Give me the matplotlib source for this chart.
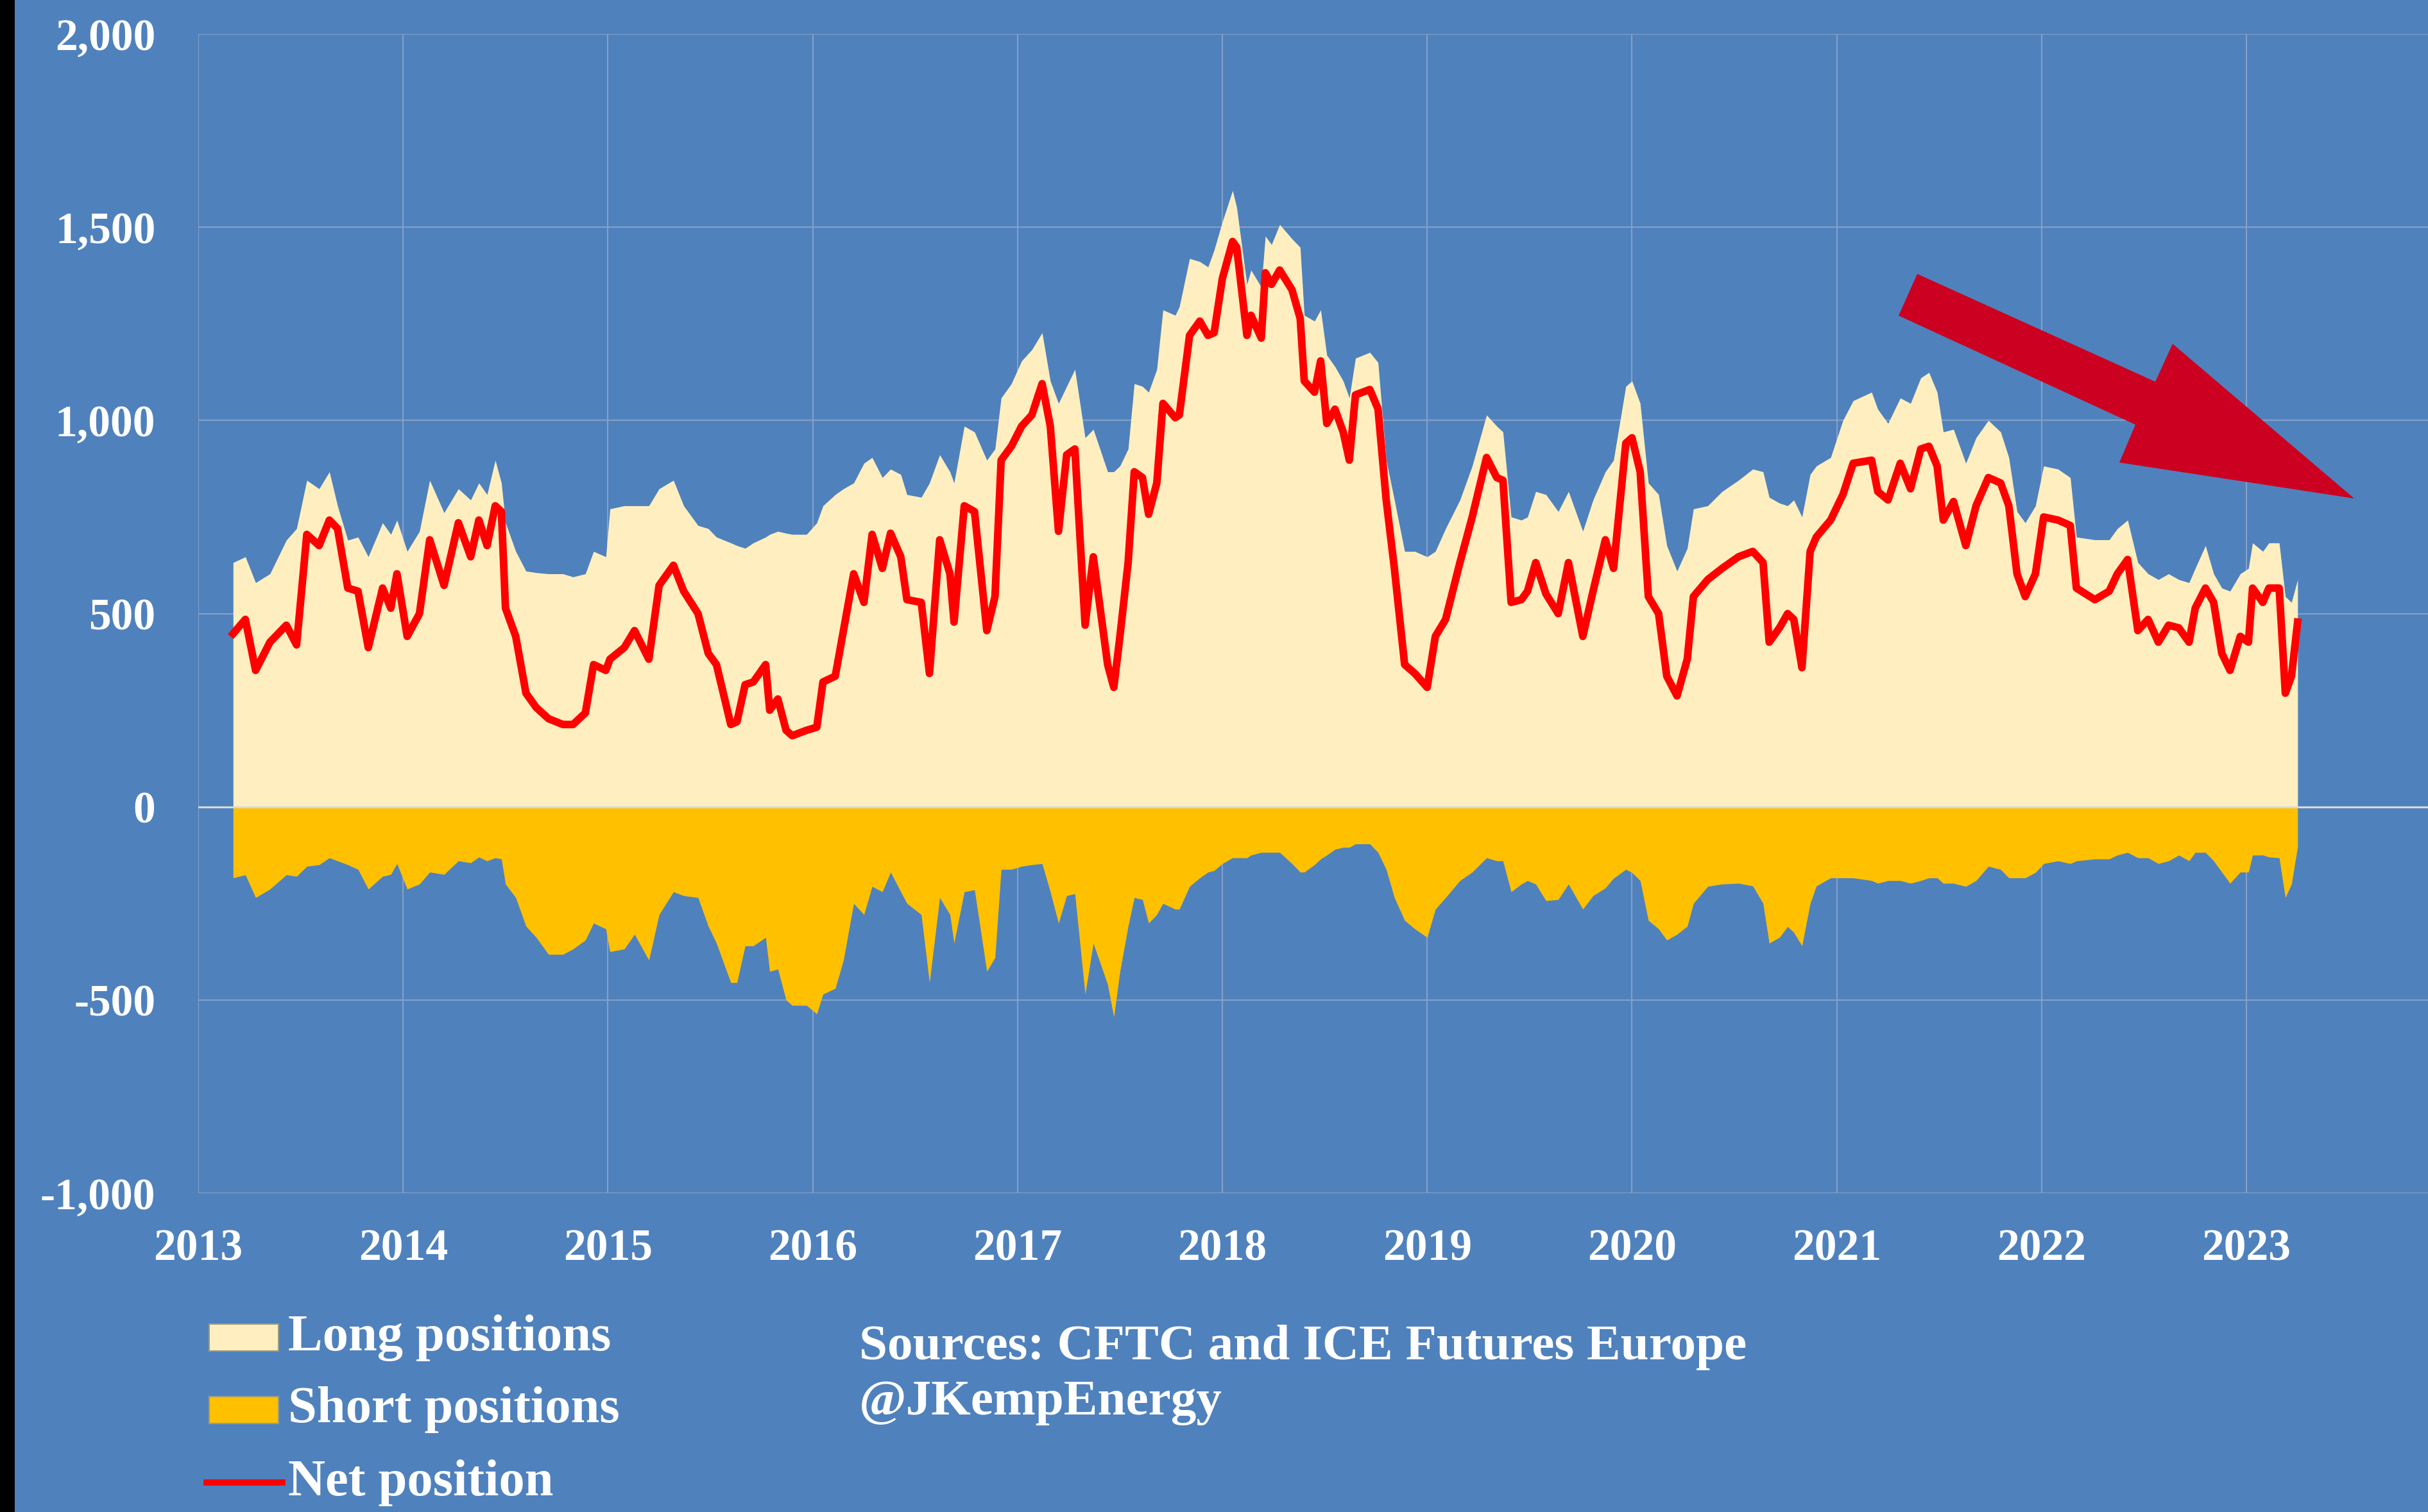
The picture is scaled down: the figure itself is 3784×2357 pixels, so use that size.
"""
plot.py - Hedge fund positions in Brent/WTI (CFTC + ICE), long/short/net, 2013-2023.
"""

import matplotlib
matplotlib.use("Agg")
import matplotlib.pyplot as plt
from matplotlib.patches import Polygon, Rectangle
from matplotlib.lines import Line2D

# ---------------------------------------------------------------------------
# Data (million barrels)
# ---------------------------------------------------------------------------

years = [
    2013.17, 2013.23, 2013.28, 2013.35, 2013.43, 2013.48, 2013.53, 2013.59, 2013.64, 2013.68,
    2013.73, 2013.78, 2013.83, 2013.90, 2013.94, 2013.97, 2014.02, 2014.08, 2014.13, 2014.20,
    2014.27, 2014.33, 2014.37, 2014.41, 2014.45, 2014.48, 2014.50, 2014.55, 2014.60, 2014.65,
    2014.71, 2014.78, 2014.83, 2014.89, 2014.93, 2014.99, 2015.01, 2015.08, 2015.13, 2015.20,
    2015.25, 2015.32, 2015.37, 2015.44, 2015.49, 2015.53, 2015.60, 2015.63, 2015.67, 2015.71,
    2015.77, 2015.79, 2015.83, 2015.87, 2015.90, 2015.97, 2016.02, 2016.05, 2016.11, 2016.15,
    2016.20, 2016.25, 2016.29, 2016.34, 2016.38, 2016.43, 2016.46, 2016.53, 2016.57, 2016.62,
    2016.67, 2016.69, 2016.74, 2016.79, 2016.85, 2016.89, 2016.92, 2016.97, 2017.02, 2017.07,
    2017.12, 2017.16, 2017.20, 2017.24, 2017.28, 2017.33, 2017.37, 2017.44, 2017.47, 2017.50,
    2017.54, 2017.57, 2017.61, 2017.64, 2017.68, 2017.71, 2017.77, 2017.79, 2017.84, 2017.89,
    2017.93, 2017.96, 2018.00, 2018.05, 2018.07, 2018.12, 2018.14, 2018.19, 2018.21, 2018.24,
    2018.28, 2018.34, 2018.38, 2018.40, 2018.45, 2018.48, 2018.51, 2018.55, 2018.59, 2018.62,
    2018.65, 2018.72, 2018.76, 2018.80, 2018.84, 2018.89, 2018.94, 2019.00, 2019.04, 2019.09,
    2019.16, 2019.22, 2019.29, 2019.34, 2019.37, 2019.41, 2019.46, 2019.49, 2019.53, 2019.58,
    2019.64, 2019.69, 2019.76, 2019.81, 2019.87, 2019.91, 2019.97, 2020.00, 2020.04, 2020.08,
    2020.13, 2020.17, 2020.22, 2020.27, 2020.30, 2020.37, 2020.44, 2020.52, 2020.59, 2020.64,
    2020.67, 2020.72, 2020.76, 2020.79, 2020.83, 2020.87, 2020.90, 2020.97, 2021.03, 2021.08,
    2021.17, 2021.20, 2021.25, 2021.31, 2021.36, 2021.41, 2021.45, 2021.49, 2021.52, 2021.57,
    2021.63, 2021.68, 2021.74, 2021.80, 2021.84, 2021.88, 2021.92, 2021.97, 2022.01, 2022.08,
    2022.14, 2022.17, 2022.26, 2022.33, 2022.37, 2022.42, 2022.47, 2022.52, 2022.57, 2022.62,
    2022.67, 2022.72, 2022.75, 2022.80, 2022.84, 2022.88, 2022.92, 2022.97, 2023.01, 2023.03,
    2023.08, 2023.11, 2023.16, 2023.19, 2023.22, 2023.25,
]

long_pos = [
    632, 647, 580, 603, 690, 720, 845, 823, 867, 779,
    690, 698, 647, 735, 705, 742, 661, 713, 845, 761,
    823, 794, 838, 808, 897, 838, 735, 661, 610, 606,
    603, 603, 595, 603, 661, 647, 771, 779, 779, 779,
    823, 845, 779, 728, 720, 698, 683, 676, 669, 683,
    698, 705, 713, 708, 705, 705, 735, 779, 808, 823,
    838, 889, 904, 852, 874, 860, 808, 801, 838, 911,
    867, 838, 985, 970, 897, 926, 1058, 1095, 1154, 1183,
    1227, 1102, 1044, 1088, 1132, 955, 977, 867, 867, 882,
    926, 1095, 1088, 1073, 1132, 1286, 1272, 1294, 1419, 1411,
    1397, 1441, 1514, 1595, 1551, 1352, 1389, 1345, 1477, 1455,
    1507, 1470, 1448, 1272, 1257, 1286, 1169, 1139, 1102, 1058,
    1161, 1176, 1150, 897, 794, 661, 661, 647, 661, 720,
    794, 882, 1014, 985, 970, 750, 742, 750, 816, 808,
    764, 816, 713, 794, 867, 897, 1088, 1102, 1044, 838,
    808, 676, 610, 669, 771, 779, 816, 845, 874, 867,
    801, 786, 779, 794, 750, 860, 882, 904, 1000, 1051,
    1073, 1029, 992, 1058, 1044, 1110, 1124, 1073, 970, 977,
    889, 955, 1000, 970, 904, 764, 735, 779, 882, 874,
    852, 698, 691, 691, 720, 742, 632, 603, 588, 603,
    588, 580, 617, 676, 603, 566, 558, 603, 617, 683,
    661, 683, 683, 544, 529, 588,
]

short_pos = [
    -184, -176, -235, -213, -176, -180, -154, -150, -132, -140,
    -150, -162, -213, -180, -175, -147, -213, -200, -169, -175,
    -140, -145, -130, -140, -132, -135, -200, -235, -309, -338,
    -382, -382, -368, -345, -301, -316, -375, -368, -330, -397,
    -279, -220, -230, -235, -309, -353, -455, -455, -360, -360,
    -338, -426, -420, -500, -514, -514, -536, -485, -470, -397,
    -250, -279, -206, -220, -169, -220, -250, -279, -455, -235,
    -279, -353, -220, -215, -426, -390, -162, -162, -154, -150,
    -147, -220, -301, -230, -225, -485, -353, -460, -544, -426,
    -309, -235, -240, -301, -279, -250, -265, -265, -206, -184,
    -169, -165, -147, -132, -132, -132, -125, -118, -118, -118,
    -118, -147, -169, -169, -150, -135, -125, -110, -105, -105,
    -96, -96, -118, -162, -235, -294, -316, -338, -265, -235,
    -191, -169, -132, -140, -140, -220, -200, -191, -200, -243,
    -240, -200, -265, -230, -210, -185, -162, -170, -191, -294,
    -316, -345, -330, -309, -250, -206, -200, -198, -205, -250,
    -353, -338, -310, -325, -360, -250, -205, -184, -184, -184,
    -191, -198, -191, -191, -198, -191, -184, -184, -198, -198,
    -206, -191, -154, -162, -184, -184, -184, -170, -147, -140,
    -147, -140, -135, -135, -125, -118, -132, -132, -147, -140,
    -125, -140, -118, -118, -140, -169, -198, -169, -169, -125,
    -125, -130, -132, -235, -200, -103,
]

net_pos = [
    448, 485, 353, 426, 470, 419, 705, 676, 742, 720,
    566, 558, 412, 566, 514, 603, 441, 500, 691, 573,
    735, 647, 742, 676, 779, 764, 514, 441, 294, 257,
    228, 213, 213, 243, 368, 353, 382, 412, 456, 382,
    573, 625, 558, 500, 397, 368, 213, 220, 316, 323,
    368, 250, 279, 198, 184, 198, 206, 323, 338, 456,
    603, 529, 705, 617, 708, 647, 536, 529, 345, 691,
    603, 478, 779, 764, 456, 544, 897, 933, 985, 1014,
    1095, 985, 713, 911, 926, 470, 647, 368, 309, 441,
    632, 867, 852, 757, 838, 1044, 1007, 1014, 1220, 1257,
    1220, 1227, 1367, 1463, 1448, 1220, 1272, 1213, 1382, 1352,
    1389, 1338, 1264, 1102, 1073, 1154, 992, 1029, 970, 897,
    1066, 1080, 1030, 794, 617, 368, 345, 309, 441, 485,
    632, 750, 904, 852, 845, 529, 536, 558, 632, 551,
    500, 632, 441, 558, 691, 617, 941, 955, 867, 544,
    500, 338, 287, 382, 544, 588, 617, 647, 661, 632,
    426, 463, 500, 485, 360, 661, 698, 742, 808, 889,
    897, 816, 794, 889, 823, 926, 933, 882, 742, 790,
    676, 779, 852, 838, 779, 603, 544, 603, 750, 742,
    728, 566, 536, 558, 603, 640, 456, 485, 426, 470,
    463, 426, 514, 566, 529, 397, 353, 441, 426, 566,
    529, 566, 566, 294, 338, 478,
]

year_ticks = list(range(2013, 2024))
value_ticks = [-1000, -500, 0, 500, 1000, 1500, 2000]
value_labels = ["-1,000", "-500", "0", "500", "1,000", "1,500", "2,000"]

legend_labels = ["Long positions", "Short positions", "Net position"]
source_lines = ["Sources: CFTC and ICE Futures Europe", "@JKempEnergy"]

# ---------------------------------------------------------------------------
# Style
# ---------------------------------------------------------------------------

BG = "#4F81BD"
LONG_C = "#FFEFC0"
SHORT_C = "#FFC000"
NET_C = "#FF0000"
ARROW_C = "#CC0020"
GRID_C = "#86A0C6"
FONT = ["Liberation Serif", "DejaVu Serif"]

W, H, DPI = 3784, 2357, 100


def fx(px):
    return px / W


def fy(py):
    return 1 - py / H


fig = plt.figure(figsize=(W / DPI, H / DPI), dpi=DPI, facecolor=BG)

# thin black strip on the left edge of the screenshot
fig.add_artist(Rectangle((0, 0), fx(23), 1, transform=fig.transFigure,
                         facecolor="black", edgecolor="none", zorder=0))

ax_left, ax_top, ax_bottom = 309, 53, 1860
year_px = 319.2
ax = fig.add_axes([fx(ax_left), fy(ax_bottom), 11 * year_px / W, (ax_bottom - ax_top) / H])
ax.set_facecolor(BG)
ax.set_xlim(2013, 2024)
ax.set_ylim(-1000, 2000)

ax.fill_between(years, 0, long_pos, color=LONG_C, lw=0, zorder=2)
ax.fill_between(years, 0, short_pos, color=SHORT_C, lw=0, zorder=2)
ax.axhline(0, color="#D9D9D9", lw=2.2, zorder=3)
ax.plot(years, net_pos, color=NET_C, lw=8.5, solid_joinstyle="round", zorder=4)

ax.set_xticks(year_ticks)
ax.set_xticklabels([str(y) for y in year_ticks])
ax.set_yticks(value_ticks)
ax.set_yticklabels(value_labels)
ax.grid(True, color=GRID_C, lw=1.5, zorder=1)
ax.set_axisbelow(True)
for s in ax.spines.values():
    s.set_visible(False)
ax.tick_params(axis="both", length=0, colors="white")
ax.tick_params(axis="y", pad=48)
ax.tick_params(axis="x", pad=40)
for lab in ax.get_xticklabels() + ax.get_yticklabels():
    lab.set_fontfamily(FONT)
    lab.set_fontweight("bold")
    lab.set_fontsize(50)

# ---------------------------------------------------------------------------
# Legend (drawn by hand, Excel-style, below the plot)
# ---------------------------------------------------------------------------

rows = [2085, 2198, 2311]
for face, y in zip([LONG_C, SHORT_C], rows[:2]):
    fig.add_artist(Rectangle((fx(326), fy(y + 21)), fx(434) - fx(326), 42 / H,
                             transform=fig.transFigure, facecolor=face,
                             edgecolor="#9C9C80", lw=1.5))
fig.add_artist(Line2D([fx(322), fx(440)], [fy(rows[2]), fy(rows[2])],
                      transform=fig.transFigure, color=NET_C, lw=7))
for label, y in zip(legend_labels, rows):
    fig.text(fx(449), fy(y), label, color="white", fontsize=58, fontweight="bold",
             family=FONT, va="center", ha="left")

for line, y in zip(source_lines, [2101, 2186]):
    fig.text(fx(1339), fy(y), line, color="white", fontsize=57, fontweight="bold",
             family=FONT, va="center", ha="left")

# ---------------------------------------------------------------------------
# Big red down-trend arrow
# ---------------------------------------------------------------------------

arrow_px = [(2988, 427), (3359, 595), (3386, 536), (3669, 777),
            (3303, 721), (3328, 662), (2959, 492)]
fig.add_artist(Polygon([(fx(x), fy(y)) for x, y in arrow_px], closed=True,
                       transform=fig.transFigure, facecolor=ARROW_C,
                       edgecolor="none", zorder=10))

fig.savefig("out.png", dpi=DPI, facecolor=BG)
